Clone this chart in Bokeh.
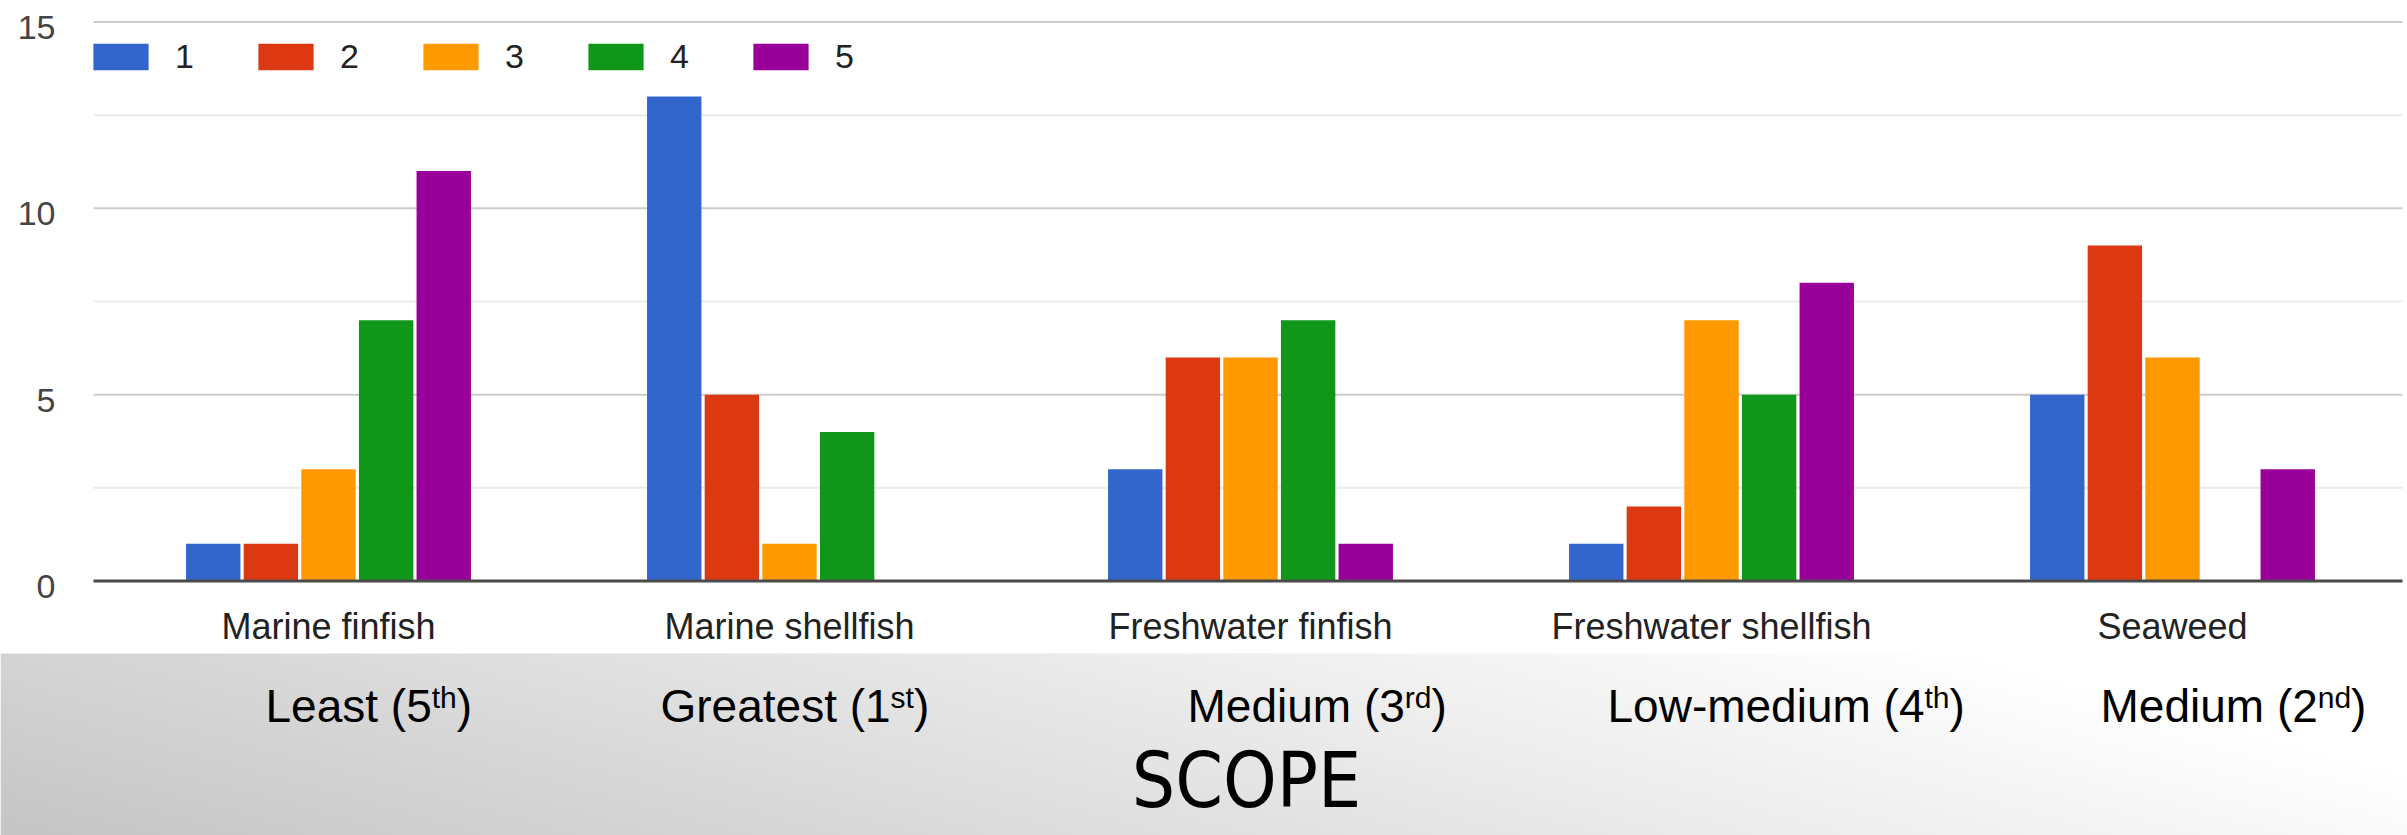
import numpy as np
from bokeh.plotting import figure
from bokeh.models import Legend, LegendItem, Range1d
from bokeh.core.properties import value
from bokeh.embed import file_html
from bokeh.resources import INLINE

# ---------------- data ----------------
categories = ["Marine finfish", "Marine shellfish", "Freshwater finfish",
              "Freshwater shellfish", "Seaweed"]
series_names = ["1", "2", "3", "4", "5"]
s1 = [1, 13, 3, 1, 5]
s2 = [1, 5, 6, 2, 9]
s3 = [3, 1, 6, 7, 6]
s4 = [7, 4, 7, 5, 0]
s5 = [11, 0, 1, 8, 3]
series = [s1, s2, s3, s4, s5]
colors = ["#3366cc", "#dc3912", "#ff9900", "#109618", "#990099"]
y_ticks = [0, 5, 10, 15]
y_minor = [2.5, 7.5, 12.5]
rank_main = ["Least (5", "Greatest (1", "Medium (3", "Low-medium (4", "Medium (2"]
rank_sup = ["th", "st", "rd", "th", "nd"]
footer = "SCOPE"

# ---------------- layout (canvas pixels) ----------------
W_FIG, H_FIG = 2407, 835
CW = 461.0                      # width of one category slot
C0 = 328.0                      # centre of first category
GRID_L, GRID_R = 93, 2402
Y15, Y0 = 21.5, 580.5
U = (Y0 - Y15) / 15.0


def px2x(px):
    return (px - C0) / CW


def px2y(py):
    return (Y0 - py) / U


FONT = value("Liberation Sans")

p = figure(width=W_FIG, height=H_FIG,
           x_range=Range1d(px2x(0), px2x(W_FIG)),
           y_range=Range1d(px2y(H_FIG), px2y(0)),
           x_axis_type=None, y_axis_type=None,
           output_backend="svg", toolbar_location=None,
           min_border=0, outline_line_color=None,
           background_fill_color="white", border_fill_color="white")

# ---------------- gradient band ----------------
band_top, band_bot = 653, H_FIG
nx, ny = 800, 92
pxs = np.linspace(0, W_FIG, nx)
pys = np.linspace(band_bot, band_top, ny)  # row 0 = bottom
PX, PY = np.meshgrid(pxs, pys)
L = np.clip(212 + 0.022 * PX - 0.08 * (PY - band_top), 0, 255).astype(np.uint8)
img = np.empty((ny, nx), dtype=np.uint32)
view = img.view(dtype=np.uint8).reshape((ny, nx, 4))
view[..., 0] = L
view[..., 1] = L
view[..., 2] = L
view[..., 3] = 255
p.image_rgba(image=[img], x=px2x(0), y=px2y(band_bot),
             dw=px2x(W_FIG) - px2x(0), dh=px2y(band_top) - px2y(band_bot))

# ---------------- grid ----------------
gx0, gx1 = px2x(GRID_L), px2x(GRID_R)
p.segment(x0=[gx0] * len(y_minor), x1=[gx1] * len(y_minor), y0=y_minor, y1=y_minor,
          line_color="#ebebeb", line_width=2)
major = [t for t in y_ticks if t != 0]
p.segment(x0=[gx0] * len(major), x1=[gx1] * len(major), y0=major, y1=major,
          line_color="#cccccc", line_width=2)

# ---------------- bars ----------------
step = 0.125
renderers = []
for j, vals in enumerate(series):
    xs = [i + (j - 2) * step for i in range(len(categories))]
    r = p.vbar(x=xs, top=vals, bottom=0, width=0.118,
               fill_color=colors[j], line_color=None)
    renderers.append(r)

# zero baseline
p.segment(x0=[gx0], x1=[gx1], y0=[0], y1=[0], line_color="#4a4a4a", line_width=3)

# ---------------- legend ----------------
legend = Legend(items=[LegendItem(label=n, renderers=[r]) for n, r in zip(series_names, renderers)],
                location=(86, 759), orientation="horizontal",
                glyph_width=69, glyph_height=33, label_standoff=20, label_width=20,
                label_height=33, spacing=56, padding=0, margin=0,
                border_line_color=None, background_fill_alpha=0,
                label_text_font="Liberation Sans", label_text_font_size="34px",
                label_text_color="#222222", label_text_baseline="middle")
p.add_layout(legend)

# text glyphs render slightly below the requested baseline; compensate (px)
SH_TICK, SH_CAT, SH_MAIN, SH_SUP = 8, 11, 14, 9

# ---------------- y tick labels ----------------
p.text(x=[px2x(55)] * len(y_ticks), y=[t - (13.5 - SH_TICK) / U for t in y_ticks],
       text=[str(t) for t in y_ticks], text_align="right", text_baseline="alphabetic",
       text_font=FONT, text_font_size="34px", text_color="#444444")

# ---------------- category labels ----------------
p.text(x=list(range(len(categories))), y=[px2y(637 - SH_CAT)] * len(categories),
       text=categories, text_align="center", text_baseline="alphabetic",
       text_font=FONT, text_font_size="36px", text_color="#222222")

# ---------------- rank labels with superscripts ----------------
AW = {" ": 278, "(": 333, ")": 333, "-": 333, "1": 556, "2": 556, "3": 556, "4": 556,
      "5": 556, "L": 556, "e": 556, "a": 556, "s": 500, "t": 278, "G": 778, "r": 333,
      "M": 833, "d": 556, "i": 222, "u": 556, "m": 833, "o": 556, "w": 722, "h": 556,
      "n": 556}


def tw(s, size):
    return sum(AW.get(c, 556) for c in s) * size / 1000.0


MAIN_SZ, SUP_SZ = 46, 30
rank_left = [265, 660, 1187, 1607, 2100]
base_main, base_sup = 719, 706
mx, sx, cx = [], [], []
for left, m, s in zip(rank_left, rank_main, rank_sup):
    mx.append(px2x(left))
    sx.append(px2x(left + tw(m, MAIN_SZ)))
    cx.append(px2x(left + tw(m, MAIN_SZ) + tw(s, SUP_SZ)))
p.text(x=mx, y=[px2y(base_main - SH_MAIN)] * 5, text=rank_main, text_align="left",
       text_baseline="alphabetic", text_font=FONT, text_font_size=f"{MAIN_SZ}px",
       text_color="#000000")
p.text(x=sx, y=[px2y(base_sup - SH_SUP)] * 5, text=rank_sup, text_align="left",
       text_baseline="alphabetic", text_font=FONT, text_font_size=f"{SUP_SZ}px",
       text_color="#000000")
p.text(x=cx, y=[px2y(base_main - SH_MAIN)] * 5, text=[")"] * 5, text_align="left",
       text_baseline="alphabetic", text_font=FONT, text_font_size=f"{MAIN_SZ}px",
       text_color="#000000")

# ---------------- footer ----------------
p.text(x=[px2x(1246)], y=[px2y(780)], text=[footer], text_align="center",
       text_baseline="alphabetic",
       text_font=value("DejaVu Sans Condensed, Liberation Sans Narrow, Liberation Sans"),
       text_font_size="76px", text_color="#000000")

open("out.html", "w").write(file_html(p, INLINE))
